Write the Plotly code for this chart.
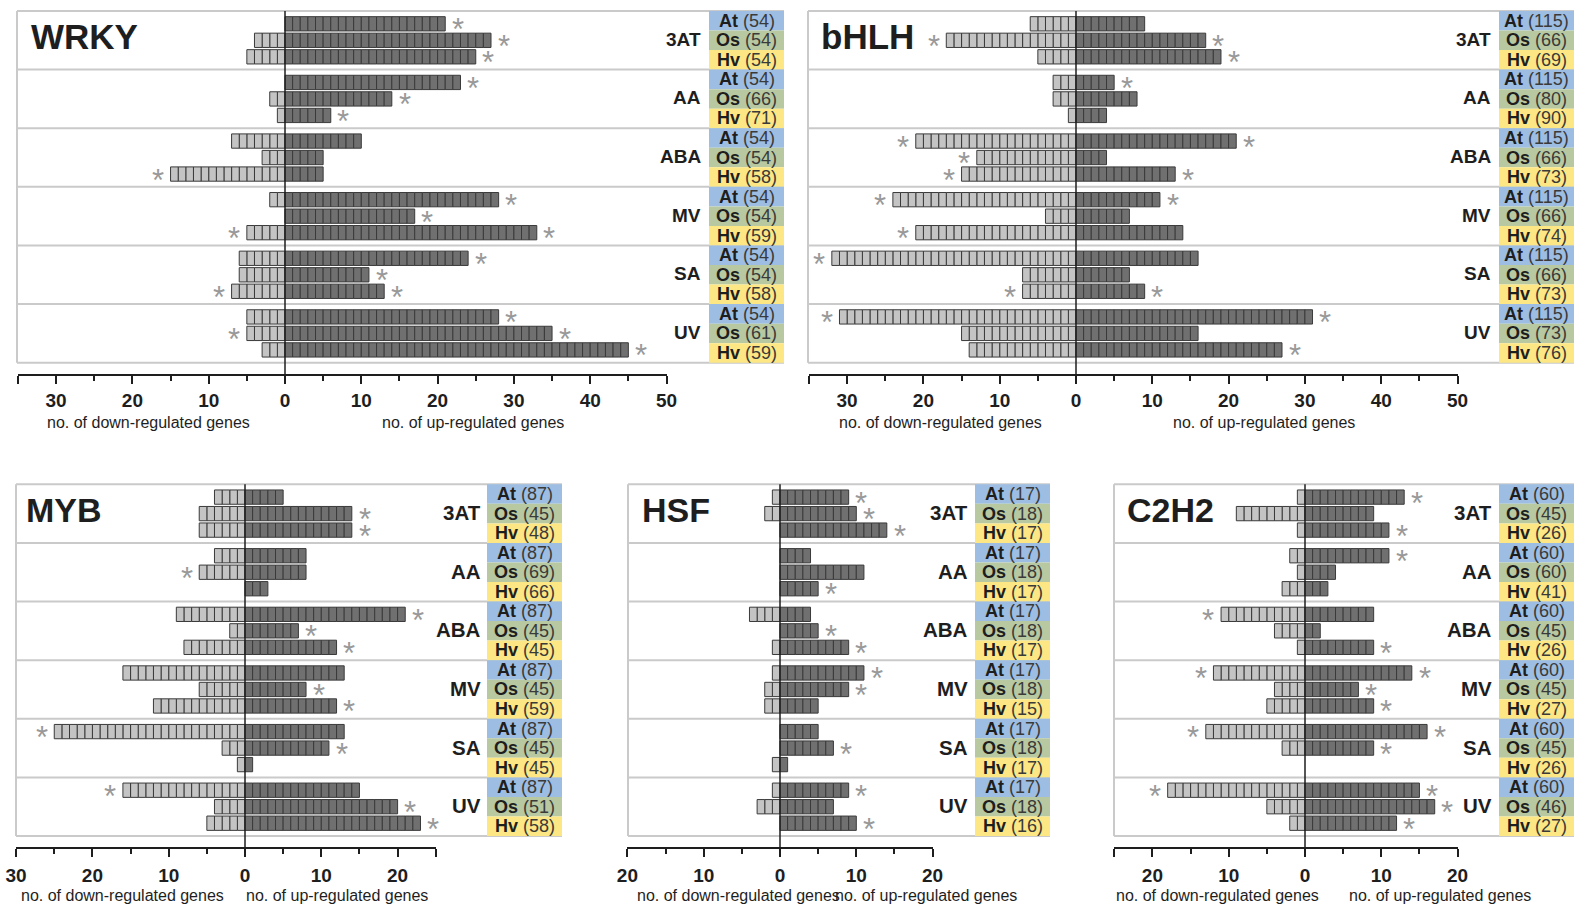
import plotly.graph_objects as go

# ---------------- data ----------------
treatments = ["3AT", "AA", "ABA", "MV", "SA", "UV"]
species = ["At", "Os", "Hv"]
family_names = ["WRKY", "bHLH", "MYB", "HSF", "C2H2"]

# order: treatment-major, species-minor (At, Os, Hv)
wrky_up = [21, 27, 25, 23, 14, 6, 10, 5, 5, 28, 17, 33, 24, 11, 13, 28, 35, 45]
wrky_down = [0, 4, 5, 0, 2, 1, 7, 3, 15, 2, 0, 5, 6, 6, 7, 5, 5, 3]
wrky_up_sig = [1, 1, 1, 1, 1, 1, 0, 0, 0, 1, 1, 1, 1, 1, 1, 1, 1, 1]
wrky_down_sig = [0, 0, 0, 0, 0, 0, 0, 0, 1, 0, 0, 1, 0, 0, 1, 0, 1, 0]
wrky_n = [54, 54, 54, 54, 66, 71, 54, 54, 58, 54, 54, 59, 54, 54, 58, 54, 61, 59]

bhlh_up = [9, 17, 19, 5, 8, 4, 21, 4, 13, 11, 7, 14, 16, 7, 9, 31, 16, 27]
bhlh_down = [6, 17, 5, 3, 3, 1, 21, 13, 15, 24, 4, 21, 32, 7, 7, 31, 15, 14]
bhlh_up_sig = [0, 1, 1, 1, 0, 0, 1, 0, 1, 1, 0, 0, 0, 0, 1, 1, 0, 1]
bhlh_down_sig = [0, 1, 0, 0, 0, 0, 1, 1, 1, 1, 0, 1, 1, 0, 1, 1, 0, 0]
bhlh_n = [115, 66, 69, 115, 80, 90, 115, 66, 73, 115, 66, 74, 115, 66, 73, 115, 73, 76]

myb_up = [5, 14, 14, 8, 8, 3, 21, 7, 12, 13, 8, 12, 13, 11, 1, 15, 20, 23]
myb_down = [4, 6, 6, 4, 6, 0, 9, 2, 8, 16, 6, 12, 25, 3, 1, 16, 4, 5]
myb_up_sig = [0, 1, 1, 0, 0, 0, 1, 1, 1, 0, 1, 1, 0, 1, 0, 0, 1, 1]
myb_down_sig = [0, 0, 0, 0, 1, 0, 0, 0, 0, 0, 0, 0, 1, 0, 0, 1, 0, 0]
myb_n = [87, 45, 48, 87, 69, 66, 87, 45, 45, 87, 45, 59, 87, 45, 45, 87, 51, 58]

hsf_up = [9, 10, 14, 4, 11, 5, 4, 5, 9, 11, 9, 5, 5, 7, 1, 9, 7, 10]
hsf_down = [1, 2, 0, 0, 0, 0, 4, 0, 1, 1, 2, 2, 0, 0, 1, 1, 3, 0]
hsf_up_sig = [1, 1, 1, 0, 0, 1, 0, 1, 1, 1, 1, 0, 0, 1, 0, 1, 0, 1]
hsf_down_sig = [0, 0, 0, 0, 0, 0, 0, 0, 0, 0, 0, 0, 0, 0, 0, 0, 0, 0]
hsf_n = [17, 18, 17, 17, 18, 17, 17, 18, 17, 17, 18, 15, 17, 18, 17, 17, 18, 16]

c2h2_up = [13, 9, 11, 11, 4, 3, 9, 2, 9, 14, 7, 9, 16, 9, 0, 15, 17, 12]
c2h2_down = [1, 9, 1, 2, 1, 3, 11, 4, 1, 12, 4, 5, 13, 3, 0, 18, 5, 2]
c2h2_up_sig = [1, 0, 1, 1, 0, 0, 0, 0, 1, 1, 1, 1, 1, 1, 0, 1, 1, 1]
c2h2_down_sig = [0, 0, 0, 0, 0, 0, 1, 0, 0, 1, 0, 0, 1, 0, 0, 1, 0, 0]
c2h2_n = [60, 45, 26, 60, 60, 41, 60, 45, 26, 60, 45, 27, 60, 45, 26, 60, 46, 27]

axis_lo = [-35, -35, -30, -20, -25]
axis_hi = [50, 50, 25, 20, 20]
axis_tick_values = [
    [-30, -20, -10, 0, 10, 20, 30, 40, 50],
    [-30, -20, -10, 0, 10, 20, 30, 40, 50],
    [-30, -20, -10, 0, 10, 20],
    [-20, -10, 0, 10, 20],
    [-20, -10, 0, 10, 20],
]
down_title = "no. of down-regulated genes"
up_title = "no. of up-regulated genes"
down_title_x = [-17.9, -17.8, -16.1, -5.5, -11.5]
up_title_x = [24.6, 24.6, 12.0, 19.1, 17.7]

families = [
    dict(up=wrky_up, down=wrky_down, us=wrky_up_sig, ds=wrky_down_sig, n=wrky_n),
    dict(up=bhlh_up, down=bhlh_down, us=bhlh_up_sig, ds=bhlh_down_sig, n=bhlh_n),
    dict(up=myb_up, down=myb_down, us=myb_up_sig, ds=myb_down_sig, n=myb_n),
    dict(up=hsf_up, down=hsf_down, us=hsf_up_sig, ds=hsf_down_sig, n=hsf_n),
    dict(up=c2h2_up, down=c2h2_down, us=c2h2_up_sig, ds=c2h2_down_sig, n=c2h2_n),
]

# ---------------- layout geometry (pixels) ----------------
W, H = 1583, 907
UNIT = 7.63          # px per gene
ROW = 19.54          # px per label row
CELL_W = 75
geom = [
    dict(L=17, R=784, zero=285, top=11.0, lab=19, standoff=0, tsize=35, tpad=12, gap=6),
    dict(L=808, R=1574, zero=1076, top=11.0, lab=19, standoff=0, tsize=35, tpad=11, gap=6),
    dict(L=16, R=562, zero=245, top=484.3, lab=20.5, standoff=2, tsize=34, tpad=8, gap=4),
    dict(L=628, R=1050, zero=780, top=484.3, lab=20.5, standoff=2, tsize=34, tpad=12, gap=5),
    dict(L=1114, R=1574, zero=1305, top=484.3, lab=20.5, standoff=2, tsize=34, tpad=11, gap=5),
]
AXIS_GAP = 11.3
TITLE_OFF = 48
BAR_STEP = 16.5 / ROW
BAR_W = 14.3 / ROW
PAD = 3.0

LIGHT = "#c4c4c4"
DARK = "#707070"
EDGE = "#3a3a3a"
FRAME = "#cacaca"
INK = "#1e1e1e"
STAR = "#999999"
species_colors = ["#9dbee2", "#b8c9a1", "#fde784"]
FONT = "Liberation Sans, Arial, sans-serif"


def px(x):
    return x / W


def py(y):
    return 1 - y / H


fig = go.Figure()
layout = dict(
    width=W, height=H, margin=dict(l=0, r=0, t=0, b=0, autoexpand=False),
    paper_bgcolor="white", plot_bgcolor="rgba(0,0,0,0)",
    barmode="overlay", hovermode=False, showlegend=False,
)
shapes, annotations = [], []

for p, fam in enumerate(families):
    g_ = geom[p]
    L, R, zero, top = g_["L"], g_["R"], g_["zero"], g_["top"]
    bot = top + 18 * ROW
    axis_y = bot + AXIS_GAP
    sfx = "" if p == 0 else str(p + 1)
    xa, ya = "x" + sfx, "y" + sfx
    e = PAD / ROW
    layout["xaxis" + sfx] = dict(domain=[px(L), px(R)],
                                 range=[(L - zero) / UNIT, (R - zero) / UNIT],
                                 visible=False, fixedrange=True, anchor=ya, automargin=False)
    layout["yaxis" + sfx] = dict(domain=[py(bot + PAD), py(top - PAD)],
                                 range=[18 + e, -e], visible=False,
                                 fixedrange=True, anchor=xa, automargin=False)

    # bars made of unit blocks
    for key, color, sign in (("down", LIGHT, -1), ("up", DARK, 1)):
        ys, xs, bases = [], [], []
        for i, v in enumerate(fam[key]):
            g, s = divmod(i, 3)
            yc = 3 * g + 1.5 + (s - 1) * BAR_STEP
            for k in range(v):
                ys.append(yc)
                xs.append(1)
                bases.append(k if sign > 0 else -(k + 1))
        fig.add_trace(go.Bar(orientation="h", x=xs, y=ys, base=bases, width=BAR_W,
                             marker=dict(color=color, line=dict(color=EDGE, width=1)),
                             xaxis=xa, yaxis=ya, hoverinfo="skip", showlegend=False))

    # asterisks
    for i in range(18):
        g, s = divmod(i, 3)
        yc = 3 * g + 1.5 + (s - 1) * BAR_STEP
        if fam["us"][i]:
            annotations.append(dict(x=fam["up"][i], y=yc, xref=xa, yref=ya, text="*",
                                    showarrow=False, xshift=12.7, yshift=-6,
                                    font=dict(family=FONT, size=31, color=STAR)))
        if fam["ds"][i]:
            annotations.append(dict(x=-fam["down"][i], y=yc, xref=xa, yref=ya, text="*",
                                    showarrow=False, xshift=-12.7, yshift=-6,
                                    font=dict(family=FONT, size=31, color=STAR)))

    # frame
    for g in range(7):
        shapes.append(dict(type="line", xref="paper", yref=ya, x0=px(L), x1=px(R),
                           y0=3 * g, y1=3 * g, line=dict(color=FRAME, width=2), layer="below"))
    shapes.append(dict(type="line", xref="paper", yref=ya, x0=px(L), x1=px(L),
                       y0=0, y1=18, line=dict(color=FRAME, width=2), layer="below"))
    # species cells
    for i in range(18):
        g, s = divmod(i, 3)
        shapes.append(dict(type="rect", xref="paper", yref=ya, x0=px(R - CELL_W), x1=px(R),
                           y0=i, y1=i + 1, fillcolor=species_colors[s],
                           line=dict(width=0), layer="below"))
        annotations.append(dict(x=px(R - CELL_W / 2), y=i + 0.5, xref="paper", yref=ya,
                                text="<b>%s</b> <span style='color:#3a3a3a'>(%d)</span>" % (species[s], fam["n"][i]),
                                showarrow=False, xanchor="center", yanchor="middle",
                                font=dict(family=FONT, size=18, color=INK)))
    for g, t in enumerate(treatments):
        annotations.append(dict(x=px(R - CELL_W - g_["gap"]), y=3 * g + 1.45, xref="paper", yref=ya,
                                text="<b>%s</b>" % t, showarrow=False, xanchor="right",
                                yanchor="middle", font=dict(family=FONT, size=g_["lab"], color=INK)))
    # family title
    annotations.append(dict(x=px(L + g_["tpad"]), y=py(top + 26), xref="paper", yref="paper",
                            text="<b>%s</b>" % family_names[p], showarrow=False,
                            xanchor="left", yanchor="middle",
                            font=dict(family=FONT, size=g_["tsize"], color=INK)))
    # zero line
    shapes.append(dict(type="line", xref=xa, yref="paper", x0=0, x1=0,
                       y0=py(axis_y), y1=py(top), line=dict(color=INK, width=1.5)))

    # bottom axis (separate axis spanning only the scale)
    tx, ty = "x" + str(6 + p), "y" + str(6 + p)
    lo, hi = axis_lo[p], axis_hi[p]
    tv = list(axis_tick_values[p])
    tt = [str(abs(v)) for v in tv]
    for end in (lo, hi):
        if end not in tv:
            tv.append(end)
            tt.append("")
    layout["xaxis" + str(6 + p)] = dict(
        domain=[px(zero + lo * UNIT), px(zero + hi * UNIT)], range=[lo, hi],
        anchor=ty, showline=True, linecolor=INK, linewidth=1.5,
        ticks="outside", ticklen=8, tickwidth=1.5, tickcolor=INK,
        tickmode="array", tickvals=tv, ticktext=tt,
        tickfont=dict(family=FONT, size=19, color=INK, weight="bold"),
        ticklabelstandoff=g_["standoff"],
        minor=dict(ticks="outside", dtick=5, tick0=0, ticklen=5, tickwidth=1.5, tickcolor=INK),
        showgrid=False, zeroline=False, fixedrange=True, automargin=False)
    layout["yaxis" + str(6 + p)] = dict(domain=[py(axis_y), py(axis_y) + 0.002], range=[0, 1],
                                        visible=False, fixedrange=True, anchor=tx, automargin=False)
    fig.add_trace(go.Scatter(x=[lo], y=[0.5], mode="markers", marker=dict(opacity=0),
                             xaxis=tx, yaxis=ty, hoverinfo="skip", showlegend=False))
    # axis titles
    for txt, xv in ((down_title, down_title_x[p]), (up_title, up_title_x[p])):
        annotations.append(dict(x=xv, y=py(axis_y + TITLE_OFF), xref=xa, yref="paper",
                                text=txt, showarrow=False, xanchor="center", yanchor="middle",
                                font=dict(family=FONT, size=16, color=INK)))

layout["shapes"] = shapes
layout["annotations"] = annotations
fig.update_layout(**layout)
fig.write_html("out.html", config={"displayModeBar": False},
               post_script="document.body.style.margin='0';document.body.style.overflow='hidden';")
